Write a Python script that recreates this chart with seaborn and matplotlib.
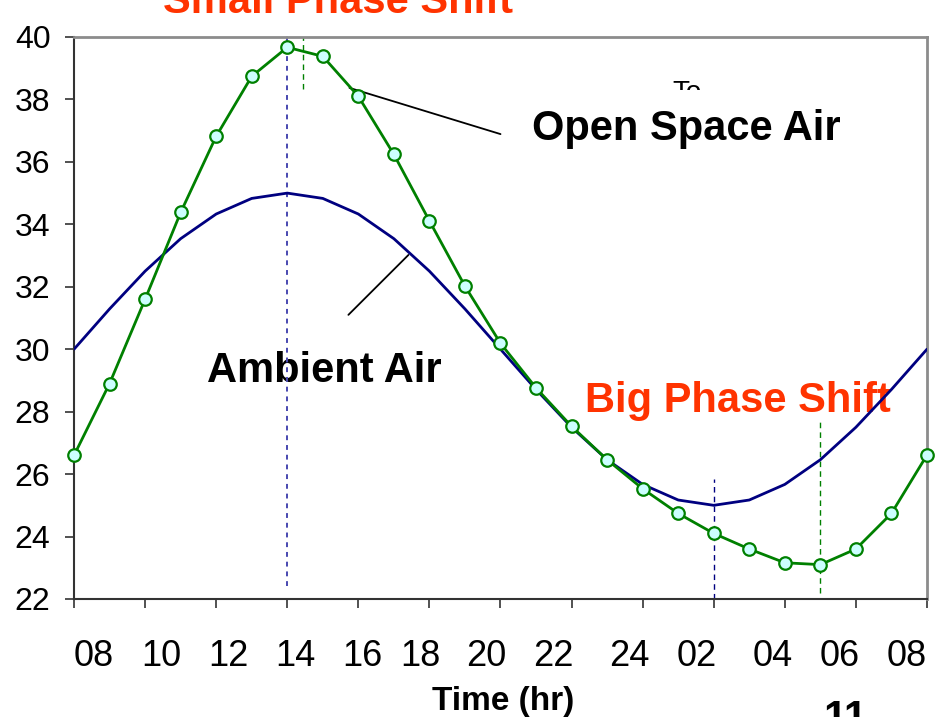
import numpy as np
import pandas as pd
import seaborn as sns
import matplotlib.pyplot as plt

# hourly readings from 08:00 one day to 08:00 the next (hour 8 .. 32)
hours = list(range(8, 33))
ambient_air = [30.0, 31.29, 32.5, 33.54, 34.33, 34.83, 35.0, 34.83, 34.33, 33.54, 32.5, 31.29,
               30.0, 28.71, 27.5, 26.46, 25.67, 25.17, 25.0, 25.17, 25.67, 26.46, 27.5, 28.71, 30.0]
open_space_air = [26.6, 28.9, 31.6, 34.38, 36.82, 38.74, 39.67, 39.38, 38.1, 36.24, 34.11, 32.02,
                  30.19, 28.76, 27.53, 26.46, 25.53, 24.74, 24.1, 23.6, 23.16, 23.1, 23.6, 24.74, 26.61]

tick_hours = list(range(8, 33, 2))
tick_labels = ['08', '10', '12', '14', '16', '18', '20', '22', '24', '02', '04', '06', '08']
# the labels sit a little off their ticks in the original slide
label_hours = [8.55, 10.46, 12.35, 14.23, 16.10, 17.75, 19.60, 21.49, 23.63, 25.53, 27.65, 29.54, 31.43]

# peak / trough marker lines: hour, y from, y to
ambient_peak = [14, 22.4, 40.13]
ambient_trough = [26, 22.0, 25.85]
open_peak = [14.45, 38.33, 40.0]
open_trough = [29, 22.2, 27.73]

# pointer lines from the labels to the curves
open_pointer = [[15.75, 20.0], [38.37, 36.89]]
ambient_pointer = [[17.41, 15.72], [33.02, 31.10]]

sns.set_style('ticks')
plt.rcParams['font.family'] = ['Liberation Sans', 'DejaVu Sans']
plt.rcParams['text.color'] = 'black'
plt.rcParams['xtick.labelcolor'] = 'black'
plt.rcParams['ytick.labelcolor'] = 'black'

df = pd.DataFrame({'hour': hours, 'ambient': ambient_air, 'open': open_space_air})

fig = plt.figure(figsize=(9.43, 7.17), dpi=100)
ax = fig.add_axes([0.0785, 0.1646, 0.9045, 0.7838])

sns.lineplot(data=df, x='hour', y='ambient', color='#000080', lw=2, ax=ax, zorder=3)
sns.lineplot(data=df, x='hour', y='open', color='#008000', lw=2, marker='o', markersize=9,
             markerfacecolor='#ccffff', markeredgecolor='#008000', markeredgewidth=1.6,
             ax=ax, zorder=4, clip_on=False)

# vertical marker lines
ax.plot([ambient_peak[0]] * 2, ambient_peak[1:], color='#4848b0', lw=1.4, ls=(0, (2.5, 2.5)), clip_on=False, zorder=2)
ax.plot([ambient_trough[0]] * 2, ambient_trough[1:], color='#000080', lw=1.0, ls=(0, (4, 3)), zorder=2)
ax.plot([open_peak[0]] * 2, open_peak[1:], color='#008000', lw=1.0, ls=(0, (4, 3)), zorder=2)
ax.plot([open_trough[0]] * 2, open_trough[1:], color='#008000', lw=1.0, ls=(0, (4, 3)), zorder=2)

ax.plot(*open_pointer, color='black', lw=1.3, zorder=2)
ax.plot(*ambient_pointer, color='black', lw=1.3, zorder=2)

ax.set_xlim(8, 32)
ax.set_ylim(22, 40)
ax.set_xlabel('')
ax.set_ylabel('')

ax.set_yticks(range(22, 41, 2))
ax.tick_params(axis='y', length=6.5, width=1.2, color='#333333', labelsize=23, pad=10.5)
ax.set_xticks(tick_hours, labels=[''] * len(tick_hours))
ax.tick_params(axis='x', which='major', length=6.5, width=1.2, color='#333333')
ax.set_xticks(label_hours, labels=tick_labels, minor=True)
ax.tick_params(axis='x', which='minor', length=0, labelsize=26, pad=29)

for s in ['left', 'bottom']:
    ax.spines[s].set_color('#333333')
    ax.spines[s].set_linewidth(1.5)
for s in ['top', 'right']:
    ax.spines[s].set_color('#8c8c8c')
    ax.spines[s].set_linewidth(2)

# labels
ax.text(24.85, 37.98, 'To', fontsize=20, va='baseline', zorder=0.5)
ax.text(20.89, 36.70, 'Open Space Air', fontsize=30, fontweight='bold', va='baseline', zorder=1,
        bbox=dict(boxstyle='square,pad=0.46', fc='white', ec='none'))
ax.text(11.74, 28.95, 'Ambient Air', fontsize=30, fontweight='bold', va='baseline', zorder=1)
ax.text(22.39, 28.0, 'Big Phase Shift', fontsize=30, fontweight='bold', color='#ff3300',
        va='baseline', zorder=1)
ax.text(10.51, 40.77, 'Small Phase Shift', fontsize=30, fontweight='bold', color='#ff3300',
        va='baseline', clip_on=False)

fig.text(0.534, 1 - 710 / 717, 'Time (hr)', fontsize=24, fontweight='bold', ha='center', va='baseline')
fig.text(845 / 943, 1 - 730 / 717, '11', fontsize=30, fontweight='bold', ha='center', va='baseline')

fig.savefig('out.png', dpi=100)
